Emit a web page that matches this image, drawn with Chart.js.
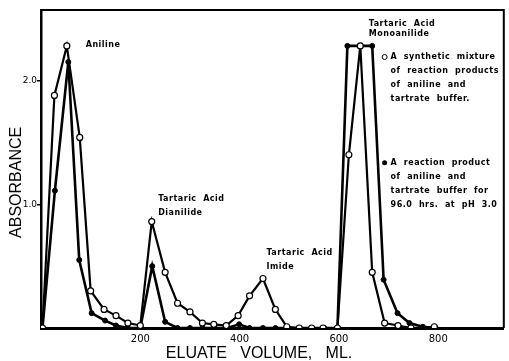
<!DOCTYPE html>
<html>
<head>
<meta charset="utf-8">
<script src="https://cdn.jsdelivr.net/npm/chart.js@4.4.0/dist/chart.umd.min.js"></script>
<style>
  html, body { margin: 0; padding: 0; background: #fff; }
  #wrap { width: 509px; height: 361px; }
</style>
</head>
<body>
<div id="wrap"><canvas id="elution"></canvas></div>
<script>
// synthetic mixture (open circles)
const synthVolume = [3, 27, 52, 78, 100, 127, 151, 175, 200, 223, 250, 275, 300, 325, 348, 373, 397, 420, 447, 472, 495, 520, 545, 568, 597, 620, 643, 667, 692, 719, 745, 792];
const synthAbs    = [0, 1.88, 2.28, 1.54, 0.30, 0.15, 0.10, 0.04, 0.02, 0.86, 0.45, 0.20, 0.13, 0.04, 0.03, 0.02, 0.10, 0.26, 0.40, 0.15, 0.01, 0, 0, 0, 0, 1.40, 2.28, 0.45, 0.04, 0.02, 0, 0.01];

// reaction product 96 hrs pH 3.0 (filled circles)
const reactVolume = [3, 28, 55, 77, 102, 129, 151, 175, 200, 224, 250, 275, 300, 325, 350, 375, 399, 420, 447, 472, 497, 520, 545, 570, 597, 617, 643, 667, 690, 718, 742, 769, 795];
const reactAbs    = [0, 1.11, 2.15, 0.55, 0.12, 0.06, 0.02, 0, 0, 0.50, 0.05, 0, 0, 0, 0, 0, 0.03, 0, 0, 0, 0, 0, 0, 0, 0, 2.28, 2.28, 2.28, 0.39, 0.12, 0.04, 0.01, 0];

const xTicks = [200, 400, 600, 800];
const yTicks = [1.0, 2.0];

// peak labels, in data units
const peakLabels = [
  { text: 'Aniline', x: 90, y: 2.29 },
  { text: 'Tartaric  Acid', x: 236, y: 1.045 },
  { text: 'Dianilide', x: 236, y: 0.93 },
  { text: 'Tartaric  Acid', x: 454, y: 0.61 },
  { text: 'Imide', x: 454, y: 0.49 },
  { text: 'Tartaric  Acid', x: 660, y: 2.46 },
  { text: 'Monoanilide', x: 660, y: 2.38 }
];

const legendOpen = ['A  synthetic  mixture', 'of  reaction  products', 'of  aniline  and', 'tartrate  buffer.'];
const legendFilled = ['A  reaction  product', 'of  aniline  and', 'tartrate  buffer  for', '96.0  hrs.  at  pH  3.0'];

const toPoints = (xs, ys) => xs.map((v, i) => ({ x: v, y: ys[i] }));

const textPlugin = {
  id: 'annotations',
  afterDatasetsDraw(chart) {
    const { ctx, scales: { x, y } } = chart;
    ctx.save();
    ctx.fillStyle = '#000';
    ctx.font = 'bold 8px "DejaVu Sans"';
    ctx.letterSpacing = '0.5px';
    ctx.textBaseline = 'middle';
    ctx.textAlign = 'left';
    peakLabels.forEach(l => ctx.fillText(l.text, x.getPixelForValue(l.x), y.getPixelForValue(l.y)));

    // legend blocks
    const drawBlock = (lines, y0, filled) => {
      const lx = x.getPixelForValue(704);
      const step = 14;
      const top = y.getPixelForValue(y0);
      lines.forEach((t, i) => ctx.fillText(t, lx, top + i * step));
      ctx.beginPath();
      ctx.arc(x.getPixelForValue(692), top, 2.5, 0, Math.PI * 2);
      if (filled) { ctx.fill(); } else { ctx.lineWidth = 1; ctx.stroke(); }
    };
    drawBlock(legendOpen, 2.19, false);
    drawBlock(legendFilled, 1.336, true);

    // frame top and right
    const a = chart.chartArea;
    ctx.lineWidth = 2;
    ctx.strokeStyle = '#000';
    ctx.beginPath();
    ctx.moveTo(a.left, a.top);
    ctx.lineTo(a.right, a.top);
    ctx.lineTo(a.right, a.bottom);
    ctx.stroke();
    ctx.restore();
  }
};

new Chart(document.getElementById('elution'), {
  type: 'line',
  data: {
    datasets: [
      {
        label: 'A synthetic mixture of reaction products of aniline and tartrate buffer.',
        data: toPoints(synthVolume, synthAbs),
        borderColor: '#000',
        borderWidth: 2.2,
        pointRadius: 3,
        pointBackgroundColor: '#fff',
        pointBorderColor: '#000',
        pointBorderWidth: 1.2,
        tension: 0
      },
      {
        label: 'A reaction product of aniline and tartrate buffer for 96.0 hrs. at pH 3.0',
        data: toPoints(reactVolume, reactAbs),
        borderColor: '#000',
        borderWidth: 2.6,
        pointRadius: 2.5,
        pointBackgroundColor: '#000',
        pointBorderColor: '#000',
        pointBorderWidth: 1,
        tension: 0
      }
    ]
  },
  options: {
    responsive: true,
    maintainAspectRatio: false,
    animation: false,
    layout: { padding: { top: 10, right: 2, left: 0, bottom: 0 } },
    plugins: {
      legend: { display: false },
      tooltip: { enabled: false }
    },
    scales: {
      x: {
        type: 'linear',
        min: 0,
        max: 932,
        afterFit: s => { s.height = 33; },
        afterBuildTicks: s => { s.ticks = xTicks.map(v => ({ value: v })); },
        grid: { display: false, drawTicks: false },
        border: { display: true, color: '#000', width: 3 },
        ticks: {
          color: '#000',
          padding: 5,
          maxRotation: 0,
          font: { family: 'DejaVu Sans', size: 10 }
        },
        title: {
          display: true,
          text: 'ELUATE   VOLUME,   ML.      ',
          color: '#000',
          padding: { top: 0, bottom: -2 },
          font: { family: 'Liberation Sans', size: 16 }
        }
      },
      y: {
        min: 0,
        max: 2.57,
        afterFit: s => { s.width = 41; },
        afterBuildTicks: s => { s.ticks = yTicks.map(v => ({ value: v })); },
        grid: { drawOnChartArea: false, drawTicks: true, tickLength: 4, color: '#000', lineWidth: 1.5 },
        border: { display: true, color: '#000', width: 2.5 },
        ticks: {
          color: '#000',
          padding: 0,
          font: { family: 'DejaVu Sans', size: 9 },
          callback: v => v.toFixed(1)
        },
        title: {
          display: true,
          text: 'ABSORBANCE      ',
          color: '#000',
          padding: { top: 7, bottom: 0 },
          font: { family: 'Liberation Sans', size: 16 }
        }
      }
    }
  },
  plugins: [textPlugin]
});
</script>
</body>
</html>
